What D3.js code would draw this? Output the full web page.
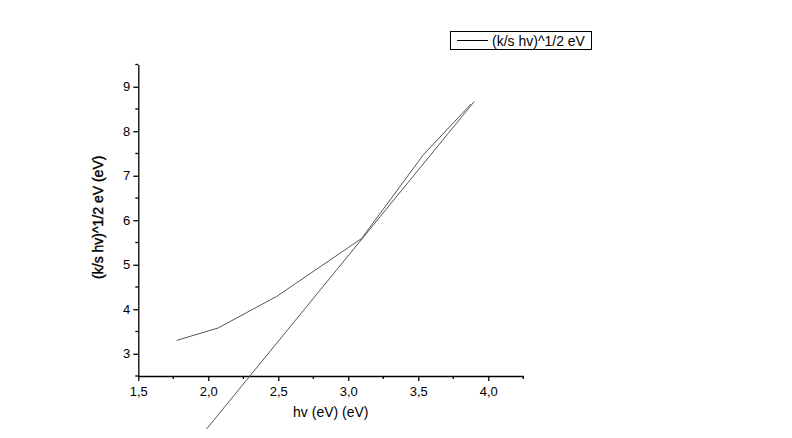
<!DOCTYPE html>
<html>
<head>
<meta charset="utf-8">
<script src="https://cdn.jsdelivr.net/npm/d3@7"></script>
<style>
  body { margin: 0; background: #fff; }
  svg text { font-family: "Liberation Sans", Arial, sans-serif; fill: #000; }
</style>
</head>
<body>
<div id="chart"></div>
<script>
// Measured curve (hv vs (k/s hv)^1/2)
const hv = [1.774, 2.071, 2.489, 3.095, 3.536, 3.876];
const kshv = [3.30, 3.58, 4.29, 5.59, 7.47, 8.61];

// Linear extrapolation drawn over the curve
const fitX = [1.988, 3.900];
const fitY = [1.31, 8.67];

const xTicks = [1.5, 2.0, 2.5, 3.0, 3.5, 4.0];
const xMinor = [1.75, 2.25, 2.75, 3.25, 3.75, 4.25];
const yTicks = [3, 4, 5, 6, 7, 8, 9];
const yMinor = [2.5, 3.5, 4.5, 5.5, 6.5, 7.5, 8.5, 9.5];

const legendLabel = '(k/s hv)^1/2 eV';
const xTitle = 'hv (eV) (eV)';
const yTitle = '(k/s hv)^1/2 eV (eV)';

const width = 792, height = 438;
const margin = { left: 138.3, right: 792 - 523.3, top: 64.5, bottom: 438 - 376 };

const svg = d3.select('#chart').append('svg')
  .attr('width', width)
  .attr('height', height);

const x = d3.scaleLinear().domain([1.5, 4.25]).range([margin.left, width - margin.right]);
const y = d3.scaleLinear().domain([2.5, 9.5]).range([height - margin.bottom, margin.top]);

const fmt = d => d3.format('.1f')(d).replace('.', ',');

// Axes
const xAxis = svg.append('g')
  .attr('transform', `translate(0,${y(2.5)})`)
  .call(d3.axisBottom(x).tickValues(xTicks).tickFormat(fmt).tickSize(5).tickSizeOuter(0));
xAxis.append('g').selectAll('line')
  .data(xMinor)
  .join('line')
  .attr('x1', d => x(d)).attr('x2', d => x(d))
  .attr('y1', 0).attr('y2', 3)
  .attr('stroke', '#000').attr('stroke-width', 1.3);

const yAxis = svg.append('g')
  .attr('transform', `translate(${x(1.5)},0)`)
  .call(d3.axisLeft(y).tickValues(yTicks).tickFormat(d3.format('d')).tickSize(5).tickSizeOuter(0));
yAxis.append('g').selectAll('line')
  .data(yMinor)
  .join('line')
  .attr('y1', d => y(d)).attr('y2', d => y(d))
  .attr('x1', 0).attr('x2', -3)
  .attr('stroke', '#000').attr('stroke-width', 1.3);

svg.selectAll('.domain, .tick line').attr('stroke', '#000').attr('stroke-width', 1.3);
xAxis.selectAll('.tick text').attr('font-size', 13).attr('dy', '0.95em');
yAxis.selectAll('.tick text').attr('font-size', 13).attr('x', -8);

// Titles
svg.append('text')
  .attr('x', (x(1.5) + x(4.25)) / 2)
  .attr('y', 417)
  .attr('text-anchor', 'middle')
  .attr('font-size', 14)
  .text(xTitle);

svg.append('text')
  .attr('transform', `translate(103,${(y(2.5) + y(9.5)) / 2 - 3}) rotate(-90)`)
  .attr('text-anchor', 'middle')
  .attr('font-size', 14)
  .attr('stroke', '#000')
  .attr('stroke-width', 0.4)
  .text(yTitle);

// Lines
const line = d3.line().x(d => x(d[0])).y(d => y(d[1]));

svg.append('path')
  .datum(hv.map((d, i) => [d, kshv[i]]))
  .attr('d', line)
  .attr('fill', 'none')
  .attr('stroke', '#555')
  .attr('stroke-width', 1);

svg.append('path')
  .datum(fitX.map((d, i) => [d, fitY[i]]))
  .attr('d', line)
  .attr('fill', 'none')
  .attr('stroke', '#555')
  .attr('stroke-width', 1);

// Legend
const legend = svg.append('g');
legend.append('rect')
  .attr('x', 450.5).attr('y', 31.5)
  .attr('width', 141).attr('height', 18)
  .attr('fill', '#fff')
  .attr('stroke', '#000')
  .attr('stroke-width', 1);
legend.append('line')
  .attr('x1', 457).attr('x2', 488)
  .attr('y1', 40.5).attr('y2', 40.5)
  .attr('stroke', '#000')
  .attr('stroke-width', 1);
legend.append('text')
  .attr('x', 492).attr('y', 45.5)
  .attr('font-size', 14)
  .text(legendLabel);
</script>
</body>
</html>
